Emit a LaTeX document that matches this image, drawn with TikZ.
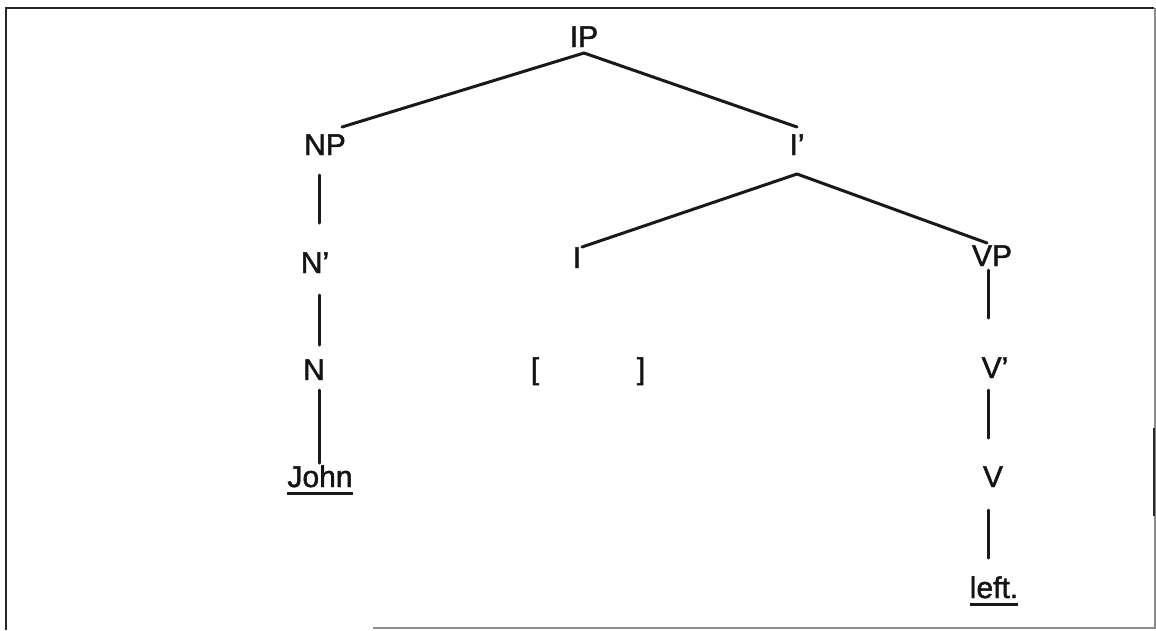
\documentclass[tikz,border=0pt]{standalone}
\usepackage{fontspec}
\setmainfont{Liberation Sans}
\newfontface\treefont{Liberation Sans}[FakeBold=1.5]
\begin{document}
\begin{tikzpicture}[x=1pt,y=1pt,
  lbl/.style={inner sep=0pt, outer sep=0pt, anchor=base,
              font=\treefont\fontsize{30}{36}\selectfont, text=black!92},
  branch/.style={line width=3pt, draw=black!90, line cap=round},
  uline/.style={line width=3pt, draw=black!90},
  framedark/.style={line width=2.4pt, draw=black!85},
  framelight/.style={line width=1.4pt, draw=black!45}]
\useasboundingbox (0,0) rectangle (1156,-630);
\fill[white] (0,0) rectangle (1156,-630);

% frame around the tree
\draw[framedark] (1154,-8) -- (6,-8) -- (6,-630);
\draw[framelight] (1155,-8) -- (1155,-628) -- (373,-628);
\draw[framedark] (1154,-428) -- (1154,-516);

% labels (positions are baselines)
\node[lbl] (IP)    at (584,-47)  {IP};
\node[lbl] (NP)    at (325,-155) {NP};
\node[lbl] (Ibar)  at (797,-155) {I’};
\node[lbl] (Nbar)  at (315,-273) {N’};
\node[lbl] (I)     at (577,-268) {I};
\node[lbl] (VP)    at (992,-266) {VP};
\node[lbl] (N)     at (314,-380) {N};
\node[lbl] (lbr)   at (535,-379) {[};
\node[lbl] (rbr)   at (641,-379) {]};
\node[lbl] (Vbar)  at (995,-378) {V’};
\node[lbl] (John)  at (320,-487) {John};
\node[lbl] (V)     at (993,-487) {V};
\node[lbl] (left)  at (994,-598) {left.};

% underlined words
\draw[uline] ([yshift=-6pt]John.base west) -- ([yshift=-6pt]John.base east);
\draw[uline] ([yshift=-6pt]left.base west) -- ([yshift=-6pt]left.base east);

% branches
\draw[branch] ([yshift=-6pt]IP.base) -- ([xshift=17pt,yshift=28pt]NP.base);
\draw[branch] ([yshift=-6pt]IP.base) -- ([yshift=28pt]Ibar.base);
\draw[branch] ([yshift=-19pt]Ibar.base) -- ([xshift=5pt,yshift=21pt]I.base);
\draw[branch] ([yshift=-19pt]Ibar.base) -- ([xshift=-5pt,yshift=23pt]VP.base);

\draw[branch] ([xshift=-6pt,yshift=-20pt]NP.base) -- ([xshift=4pt,yshift=50pt]Nbar.base);
\draw[branch] ([xshift=4pt,yshift=-22pt]Nbar.base) -- ([xshift=5pt,yshift=35pt]N.base);
\draw[branch] ([xshift=5pt,yshift=-10pt]N.base) -- ([xshift=-1pt,yshift=24pt]John.base);

\draw[branch] ([xshift=-4pt,yshift=-4pt]VP.base) -- ([xshift=-7pt,yshift=60pt]Vbar.base);
\draw[branch] ([xshift=-7pt,yshift=-12pt]Vbar.base) -- ([xshift=-5pt,yshift=49pt]V.base);
\draw[branch] ([xshift=-5pt,yshift=-23pt]V.base) -- ([xshift=-6pt,yshift=40pt]left.base);
\end{tikzpicture}
\end{document}
